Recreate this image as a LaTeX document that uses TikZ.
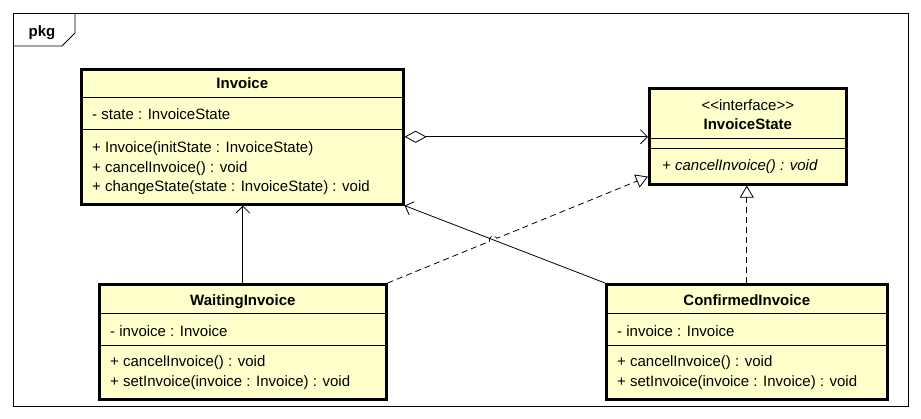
\documentclass[tikz,border=0pt]{standalone}
\usepackage{fontspec}
\setmainfont{Liberation Sans}
\usetikzlibrary{arrows.meta, positioning, calc, intersections}

\definecolor{classfill}{RGB}{255,255,204}

\begin{document}
\begin{tikzpicture}[x=1pt, y=-1pt,
    font=\fontsize{15}{18}\selectfont,
    classbox/.style={rectangle, draw, line width=2.6pt, fill=classfill, inner sep=0pt, anchor=north west},
    classname/.style={font=\fontsize{15}{18}\selectfont\bfseries, inner sep=0pt, text height=10.7pt, text depth=0pt},
    member/.style={anchor=west, inner sep=0pt, text height=10.7pt, text depth=0pt},
    compart/.style={line width=0.8pt},
    assoc/.style={line width=0.8pt, -{Straight Barb[length=7pt, width=14pt]}},
    aggr/.style={line width=0.8pt, {Diamond[open, fill=white, length=22pt, width=12pt]}-{Straight Barb[length=7pt, width=14pt]}},
    realize/.style={line width=0.8pt, dash pattern=on 6pt off 4pt, -{Triangle[open, fill=white, length=12pt, width=14pt]}}
]
    \useasboundingbox (0,0) rectangle (921,418);

    % package frame
    \draw[line width=0.8pt] (13,13) rectangle (908,406);
    \draw[line width=0.8pt] (13,46) -- (62,46) -- (75,33) -- (75,13);
    \node[font=\fontsize{15}{18}\selectfont\bfseries, anchor=base, inner sep=0pt] (pkg) at (42,36) {pkg};

    % Invoice
    \node[classbox, minimum width=322pt, minimum height=135pt] (inv) at (80,68) {};
    \node[classname] (invname) at ($(inv.north)+(0,15)$) {Invoice};
    \draw[compart] ($(inv.north west)+(0,29)$) -- ($(inv.north east)+(0,29)$);
    \node[member] (invattr) at ($(inv.north west)+(12,46)$) {- state : InvoiceState};
    \draw[compart] ($(inv.north west)+(0,61)$) -- ($(inv.north east)+(0,61)$);
    \node[member] (invop1) at ($(inv.north west)+(12,79)$) {+ Invoice(initState : InvoiceState)};
    \node[member] (invop2) at ($(inv.north west)+(12,99)$) {+ cancelInvoice() : void};
    \node[member] (invop3) at ($(inv.north west)+(12,118)$) {+ changeState(state : InvoiceState) : void};

    % InvoiceState
    \node[classbox, minimum width=197pt, minimum height=96pt] (st) at (648,87) {};
    \node[member, anchor=center] (ststereo) at ($(st.north)+(0,18)$) {<\kern0pt<interface>\kern0pt>};
    \node[classname] (stname) at ($(st.north)+(0,37)$) {InvoiceState};
    \draw[compart] ($(st.north west)+(0,51)$) -- ($(st.north east)+(0,51)$);
    \draw[compart] ($(st.north west)+(0,61)$) -- ($(st.north east)+(0,61)$);
    \node[member, font=\fontsize{15}{18}\selectfont\itshape] (stop1) at ($(st.north west)+(14,78)$) {+ cancelInvoice() : void};

    % WaitingInvoice
    \node[classbox, minimum width=287pt, minimum height=115pt] (wait) at (98,283) {};
    \node[classname] (waitname) at ($(wait.north)+(0,17)$) {WaitingInvoice};
    \draw[compart] ($(wait.north west)+(0,30)$) -- ($(wait.north east)+(0,30)$);
    \node[member] (waitattr) at ($(wait.north west)+(12,48)$) {- invoice : Invoice};
    \draw[compart] ($(wait.north west)+(0,62)$) -- ($(wait.north east)+(0,62)$);
    \node[member] (waitop1) at ($(wait.north west)+(12,78)$) {+ cancelInvoice() : void};
    \node[member] (waitop2) at ($(wait.north west)+(12,98)$) {+ setInvoice(invoice : Invoice) : void};

    % ConfirmedInvoice
    \node[classbox, minimum width=281pt, minimum height=115pt] (conf) at (605,283) {};
    \node[classname] (confname) at ($(conf.north)+(0,17)$) {ConfirmedInvoice};
    \draw[compart] ($(conf.north west)+(0,30)$) -- ($(conf.north east)+(0,30)$);
    \node[member] (confattr) at ($(conf.north west)+(12,48)$) {- invoice : Invoice};
    \draw[compart] ($(conf.north west)+(0,62)$) -- ($(conf.north east)+(0,62)$);
    \node[member] (confop1) at ($(conf.north west)+(12,78)$) {+ cancelInvoice() : void};
    \node[member] (confop2) at ($(conf.north west)+(12,98)$) {+ setInvoice(invoice : Invoice) : void};

    % relations
    \coordinate (stin) at ($(st.south west)+(0,-9)$);
    \draw[aggr] (inv.east) -- (inv.east -| st.west);
    \draw[assoc] (wait.north) -- (wait.north |- inv.south);
    \draw[assoc, name path=back] (conf.north west) -- (inv.south east);
    \path[name path=real] (wait.north east) -- (stin);
    \path[name intersections={of=real and back, by=hop}];
    \draw[realize] (wait.north east) -- ($(hop)!4pt!(wait.north east)$)
        arc[start angle=202.5, end angle=22.5, radius=4pt] -- (stin);
    \draw[realize] (conf.north) -- (conf.north |- st.south);

\end{tikzpicture}
\end{document}
